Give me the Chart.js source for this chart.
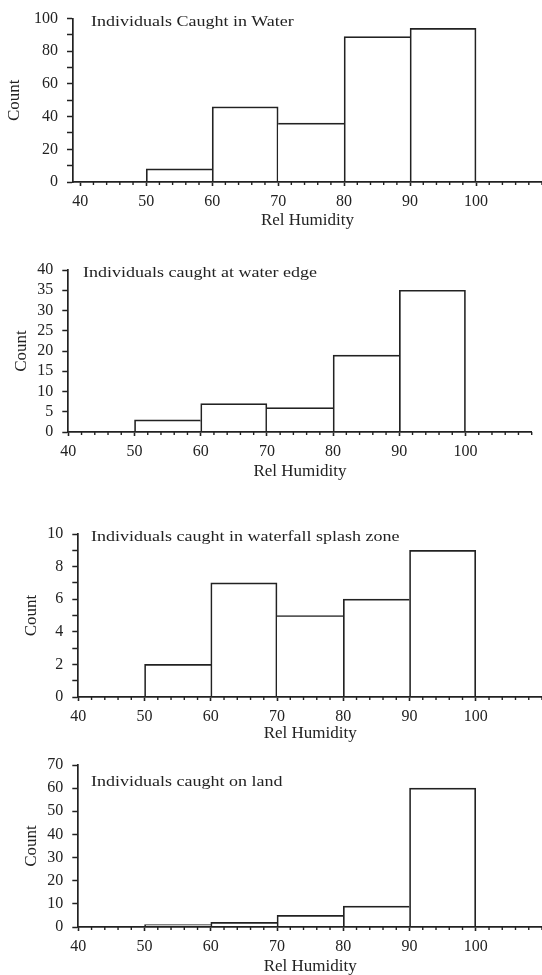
<!DOCTYPE html>
<html><head><meta charset="utf-8">
<script src="https://cdn.jsdelivr.net/npm/chart.js@4/dist/chart.umd.min.js"></script>
<style>
html,body{margin:0;padding:0;background:#fff;width:542px;height:975px;overflow:hidden;}
canvas{position:absolute;left:0;}
.ptitle{position:absolute;font-family:"Liberation Serif",serif;font-size:15px;line-height:17px;color:#222;white-space:nowrap;transform-origin:left center;transform:scaleX(1.2);}
</style></head><body>
<canvas id="c0" width="542" height="232" style="top:0px"></canvas>
<canvas id="c1" width="542" height="232" style="top:250px"></canvas>
<canvas id="c2" width="542" height="233" style="top:514px"></canvas>
<canvas id="c3" width="542" height="232" style="top:745px"></canvas>
<div class="ptitle" id="t0" style="left:91px;top:13px"></div>
<div class="ptitle" id="t1" style="left:83px;top:264px"></div>
<div class="ptitle" id="t2" style="left:91px;top:528px"></div>
<div class="ptitle" id="t3" style="left:91px;top:773px"></div>
<script>
// ---- data ----
const BIN_CENTERS = [55, 65, 75, 85, 95];           // bins 50-60 ... 90-100
const WATER  = [8, 46, 36, 89, 94];
const EDGE   = [3, 7, 6, 19, 35];
const SPLASH = [2, 7, 5, 6, 9];
const LAND   = [1, 2, 5, 9, 60];
const PANEL_TITLES = ['Individuals Caught in Water', 'Individuals caught at water edge',
  'Individuals caught in waterfall splash zone', 'Individuals caught on land'];
const X_TITLE = 'Rel Humidity';
const Y_TITLE = 'Count';
const X_TICKS = [40, 50, 60, 70, 80, 90, 100];
const X_TICK_LABELS = ['40', '50', '60', '70', '80', '90', '100'];
const X_MINOR = [42,44,46,48,52,54,56,58,62,64,66,68,72,74,76,78,82,84,86,88,92,94,96,98,102,104,106,108,110];
const WATER_Y_TICKS = [0,10,20,30,40,50,60,70,80,90,100];
const WATER_Y_LABELS = ['0','20','40','60','80','100'];
const EDGE_Y_TICKS = [0,5,10,15,20,25,30,35,40];
const EDGE_Y_LABELS = ['0','5','10','15','20','25','30','35','40'];
const SPLASH_Y_TICKS = [0,1,2,3,4,5,6,7,8,9,10];
const SPLASH_Y_LABELS = ['0','2','4','6','8','10'];
const LAND_Y_TICKS = [0,10,20,30,40,50,60,70];
const LAND_Y_LABELS = ['0','10','20','30','40','50','60','70'];

const SERIES = [WATER, EDGE, SPLASH, LAND];
const Y_TICKS = [WATER_Y_TICKS, EDGE_Y_TICKS, SPLASH_Y_TICKS, LAND_Y_TICKS];
const Y_LABELS = [WATER_Y_LABELS, EDGE_Y_LABELS, SPLASH_Y_LABELS, LAND_Y_LABELS];

// ---- layout / style ----
const INK = '#222';
const BW = 1.7;
const FONT = 'Liberation Serif';
const LAYOUT = [
  {padTop: 18.5, yW: 73,   padR: 0,    xMin: 38.9, xMax: 110, yTitlePad: 4.8,  xTitlePad: 0.8},
  {padTop: 20,   yW: 68.3, padR: 10.3, xMin: 40,   xMax: 110, yTitlePad: 11.5, xTitlePad: 0.1},
  {padTop: 20,   yW: 78.3, padR: 0,    xMin: 40,   xMax: 110, yTitlePad: 21.8, xTitlePad: 2.8},
  {padTop: 20,   yW: 78.3, padR: 0,    xMin: 40,   xMax: 110, yTitlePad: 21.8, xTitlePad: 0.4}
];

const minorTicks = {
  id: 'minorTicks',
  afterDraw(chart) {
    const xs = chart.scales.x, ctx = chart.ctx, y0 = chart.chartArea.bottom;
    ctx.save();
    ctx.strokeStyle = INK; ctx.lineWidth = 1.4;
    X_MINOR.forEach(v => {
      const px = xs.getPixelForValue(v);
      ctx.beginPath(); ctx.moveTo(px, y0); ctx.lineTo(px, y0 + 3); ctx.stroke();
    });
    ctx.restore();
  }
};

function edgeWidths(vals) {
  return (c) => {
    const i = c.dataIndex, v = vals[i];
    const prev = i > 0 ? vals[i - 1] : -1;
    const next = i < vals.length - 1 ? vals[i + 1] : -1;
    return {top: BW, left: prev <= v ? BW : 0, right: next < v ? BW : 0, bottom: 0};
  };
}

SERIES.forEach((vals, k) => {
  document.getElementById('t' + k).textContent = PANEL_TITLES[k];
  const L = LAYOUT[k];
  const yt = Y_TICKS[k], yl = Y_LABELS[k];
  new Chart(document.getElementById('c' + k), {
    type: 'bar',
    data: {
      datasets: [{
        data: BIN_CENTERS.map((x, i) => ({x: x, y: vals[i]})),
        backgroundColor: '#fff',
        borderColor: INK,
        borderWidth: edgeWidths(vals),
        borderSkipped: false,
        barPercentage: 1,
        categoryPercentage: 1
      }]
    },
    options: {
      responsive: false,
      animation: false,
      devicePixelRatio: 1,
      layout: {padding: {top: L.padTop, left: 0, right: L.padR, bottom: 0}},
      plugins: {legend: {display: false}, tooltip: {enabled: false}},
      scales: {
        x: {
          type: 'linear', offset: false, min: L.xMin, max: L.xMax,
          afterBuildTicks: s => { s.ticks = X_TICKS.map(v => ({value: v})); },
          afterFit: s => { s.height = 50; },
          grid: {offset: false, drawOnChartArea: false, drawTicks: true, tickLength: 4, tickColor: INK, tickWidth: 1.6},
          border: {display: true, color: INK, width: 1.7, z: 1},
          ticks: {
            autoSkip: false, maxRotation: 0, padding: 5.9, color: INK,
            font: {family: FONT, size: 16},
            callback: v => { const i = X_TICKS.indexOf(v); return i >= 0 ? X_TICK_LABELS[i] : ''; }
          },
          title: {display: true, text: X_TITLE, color: INK, font: {family: FONT, size: 17},
                  padding: {top: 0, bottom: L.xTitlePad}}
        },
        y: {
          min: yt[0], max: yt[yt.length - 1],
          afterBuildTicks: s => { s.ticks = yt.map(v => ({value: v})); },
          afterFit: s => { s.width = L.yW; },
          grid: {drawOnChartArea: false, drawTicks: true, tickLength: 6, tickColor: INK, tickWidth: 1.5},
          border: {display: true, color: INK, width: 1.7},
          ticks: {
            autoSkip: false, padding: 9, color: INK,
            font: {family: FONT, size: 16},
            callback: v => (yl.indexOf(String(v)) >= 0 ? String(v) : '')
          },
          title: {display: true, text: Y_TITLE, color: INK, font: {family: FONT, size: 17},
                  padding: {top: L.yTitlePad, bottom: 0}}
        }
      }
    },
    plugins: [minorTicks]
  });
});
</script>
</body></html>
